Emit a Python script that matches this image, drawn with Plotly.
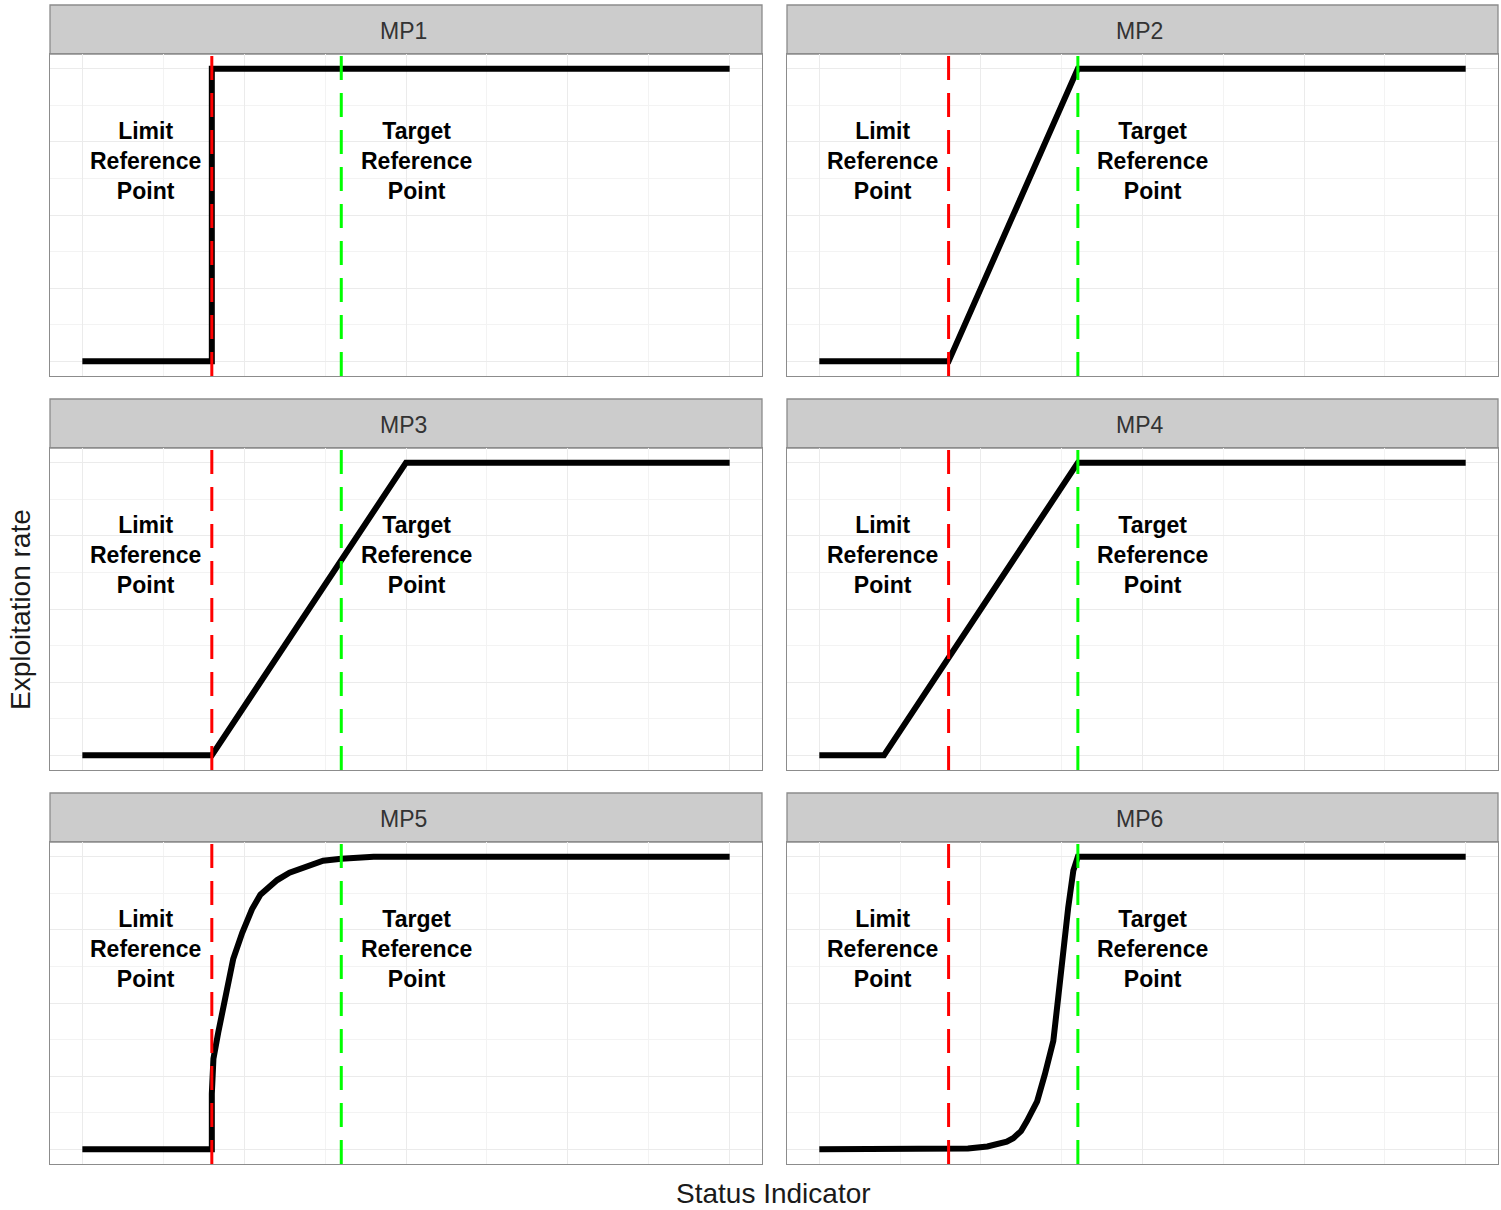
import plotly.graph_objects as go

# ---- data ----
panels = ["MP1", "MP2", "MP3", "MP4", "MP5", "MP6"]
lrp = 0.2
trp = 0.4

mp1_x = [0, 0.2, 0.2, 1]
mp1_y = [0, 0, 1, 1]
mp2_x = [0, 0.2, 0.4, 1]
mp2_y = [0, 0, 1, 1]
mp3_x = [0, 0.2, 0.5, 1]
mp3_y = [0, 0, 1, 1]
mp4_x = [0, 0.1, 0.4, 1]
mp4_y = [0, 0, 1, 1]
mp5_x = [0, 0.2, 0.2, 0.2025, 0.21, 0.218, 0.226, 0.233, 0.247, 0.262, 0.275, 0.29, 0.301, 0.32, 0.337, 0.372, 0.4, 0.45, 0.45, 1]
mp5_y = [0, 0, 0.19, 0.31, 0.40, 0.48, 0.57, 0.65, 0.74, 0.82, 0.87, 0.90, 0.92, 0.945, 0.96, 0.986, 0.993, 0.995, 1.0, 1.0]
mp6_x = [0, 0.2, 0.23, 0.26, 0.275, 0.29, 0.30, 0.312, 0.321, 0.337, 0.349, 0.362, 0.369, 0.377, 0.385, 0.393, 0.4, 0.4, 1]
mp6_y = [0, 0, 0.003, 0.01, 0.017, 0.026, 0.038, 0.062, 0.096, 0.164, 0.257, 0.37, 0.507, 0.678, 0.825, 0.952, 0.99, 1, 1]

series_x = [mp1_x, mp2_x, mp3_x, mp4_x, mp5_x, mp6_x]
series_y = [mp1_y, mp2_y, mp3_y, mp4_y, mp5_y, mp6_y]

lrp_label = "Limit<br>Reference<br>Point"
trp_label = "Target<br>Reference<br>Point"
lrp_label_x, trp_label_x, label_y = 0.097, 0.516, 0.685

x_title = "Status Indicator"
y_title = "Exploitation rate"

# ---- layout geometry (pixels of 1501x1210) ----
W, H = 1501, 1210
col_px = [(50, 762), (787, 1498)]
row_px = [(54, 376), (448, 770), (842, 1164)]
strip_h = 49

def px_x(p):
    return p / W

def px_y(p):
    return 1 - p / H

fig = go.Figure()
FONT = "Liberation Sans, Arial, sans-serif"

for i, name in enumerate(panels):
    r, c = divmod(i, 2)
    n = i + 1
    xa = "x" if n == 1 else f"x{n}"
    ya = "y" if n == 1 else f"y{n}"
    xkey = "xaxis" if n == 1 else f"xaxis{n}"
    ykey = "yaxis" if n == 1 else f"yaxis{n}"
    x0p, x1p = col_px[c]
    y0p, y1p = row_px[r]

    axis_common = dict(
        showticklabels=False, ticks="", zeroline=False,
        showline=True, mirror=True, linecolor="#8C8C8C", linewidth=1.3,
        showgrid=True, gridcolor="#EBEBEB", gridwidth=1.3, dtick=0.25, tick0=0,
        minor=dict(dtick=0.125, tick0=0, showgrid=True, gridcolor="#F3F3F3", gridwidth=0.8),
        fixedrange=True,
    )
    fig.layout[xkey] = dict(axis_common, domain=[px_x(x0p), px_x(x1p)],
                            range=[-0.05, 1.05], anchor=ya)
    fig.layout[ykey] = dict(axis_common, domain=[px_y(y1p), px_y(y0p)],
                            range=[-0.05, 1.05], anchor=xa)

    fig.add_trace(go.Scatter(x=series_x[i], y=series_y[i], mode="lines",
                             line=dict(color="black", width=6),
                             xaxis=xa, yaxis=ya, showlegend=False, hoverinfo="skip"))

    # reference lines
    fig.add_shape(type="line", xref=xa, yref=f"{ya} domain", x0=lrp, x1=lrp, y0=0, y1=1,
                  line=dict(color="#FF0000", width=3, dash="24px,13px"), layer="above")
    fig.add_shape(type="line", xref=xa, yref=f"{ya} domain", x0=trp, x1=trp, y0=0, y1=1,
                  line=dict(color="#00FF00", width=3, dash="24px,13px"), layer="above")

    # labels
    for lx, txt in ((lrp_label_x, lrp_label), (trp_label_x, trp_label)):
        fig.add_annotation(x=lx, y=label_y, xref=xa, yref=ya, text=f"<b>{txt}</b>",
                           showarrow=False, align="center", xanchor="center", yanchor="middle",
                           font=dict(family=FONT, size=23, color="black"))

    # strip
    fig.add_shape(type="rect", xref="paper", yref="paper",
                  x0=px_x(x0p), x1=px_x(x1p), y0=px_y(y0p), y1=px_y(y0p - strip_h),
                  fillcolor="#CCCCCC", line=dict(color="#8C8C8C", width=1.3), layer="below")
    fig.add_annotation(x=px_x((x0p + x1p) / 2 - 3), y=px_y(y0p - strip_h / 2 + 1.5), xref="paper", yref="paper",
                       text=name, showarrow=False, xanchor="center", yanchor="middle",
                       font=dict(family=FONT, size=23, color="#333333"))

fig.add_annotation(x=px_x(773), y=px_y(1193), xref="paper", yref="paper", text=x_title,
                   showarrow=False, xanchor="center", yanchor="middle",
                   font=dict(family=FONT, size=28, color="#1A1A1A"))
fig.add_annotation(x=px_x(20), y=px_y(610), xref="paper", yref="paper", text=y_title,
                   showarrow=False, textangle=-90, xanchor="center", yanchor="middle",
                   font=dict(family=FONT, size=28, color="#1A1A1A"))

fig.update_layout(width=W, height=H, margin=dict(l=0, r=0, t=0, b=0),
                  paper_bgcolor="white", plot_bgcolor="white", showlegend=False)

fig.write_html("out.html", post_script="document.body.style.margin='0';",
               config={"displayModeBar": False})
